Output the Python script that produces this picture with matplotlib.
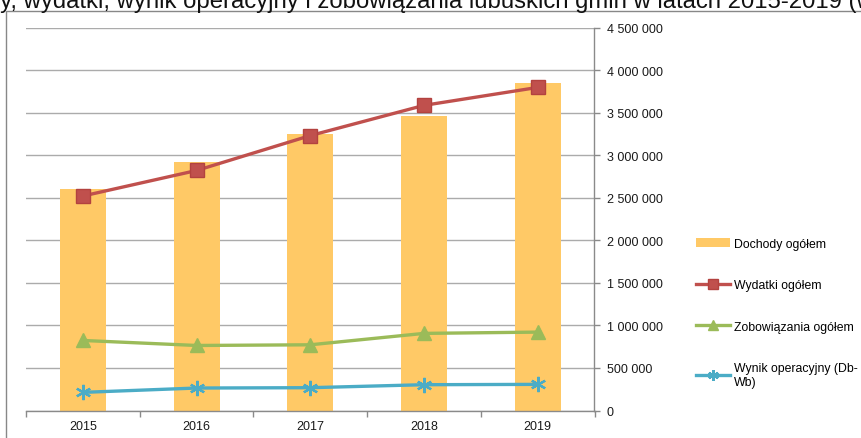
import matplotlib
matplotlib.use("Agg")
import matplotlib.pyplot as plt
from matplotlib.patches import Rectangle
from matplotlib.ticker import FuncFormatter, MultipleLocator, FixedLocator

plt.rcParams['font.family'] = ['Liberation Sans', 'DejaVu Sans']

# dane (tys. zl)
LATA = ["2015", "2016", "2017", "2018", "2019"]
DOCHODY = [2600000, 2920000, 3243000, 3459000, 3847000]
WYDATKI = [2520000, 2820000, 3230000, 3585000, 3796000]
ZOBOWIAZANIA = [823000, 764000, 772000, 906000, 921000]
WYNIK = [213000, 264000, 268000, 303000, 307000]

TYTUL = "Dochody, wydatki, wynik operacyjny i zobowiązania lubuskich gmin w latach 2015-2019 (w tys. zł)"

fig = plt.figure(figsize=(8.62, 4.39), dpi=100)
ax = fig.add_axes([26 / 862, 1 - 411.5 / 439, (594.5 - 26) / 862, (411.5 - 28.5) / 439])

x = range(len(LATA))
b = ax.bar(x, DOCHODY, width=0.405, color="#FFC966", label="Dochody ogółem", zorder=2)
l1, = ax.plot(x, WYDATKI, color="#C0504D", lw=2.4, marker="s", ms=9.5, mec="#B3423F",
              label="Wydatki ogółem", zorder=3)
l2, = ax.plot(x, ZOBOWIAZANIA, color="#9BBB59", lw=2.4, marker="^", ms=10,
              label="Zobowiązania ogółem", zorder=3)
l3, = ax.plot(x, WYNIK, color="#4BACC6", lw=2.4, marker=(6, 2, 0), ms=11, mew=1.6,
              label="Wynik operacyjny (Db-\nWb)", zorder=3)

ax.set_xlim(-0.5, len(LATA) - 0.5)
ax.set_ylim(0, 4500000)
ax.yaxis.set_major_locator(MultipleLocator(500000))
ax.yaxis.set_major_formatter(FuncFormatter(lambda v, p: f"{int(v):,}".replace(",", " ")))
ax.yaxis.tick_right()
ax.grid(axis="y", color="#ABABAB", lw=1, zorder=0)

ax.set_xticks(list(x))
ax.set_xticklabels(LATA)
ax.xaxis.set_minor_locator(FixedLocator([i - 0.5 for i in range(len(LATA) + 1)]))
ax.tick_params(axis="x", which="major", length=0, pad=7, labelsize=9, labelcolor="#1a1a1a")
ax.tick_params(axis="x", which="minor", length=4, width=1, color="#8A8A8A", direction="out")
ax.tick_params(axis="y", length=4, width=1, color="#8A8A8A", pad=5, labelsize=9,
               labelcolor="#1a1a1a")

for s in ["left", "top"]:
    ax.spines[s].set_visible(False)
for s in ["right", "bottom"]:
    ax.spines[s].set_color("#8A8A8A")
    ax.spines[s].set_linewidth(1)

fig.legend([b, l1, l2, l3], [h.get_label() for h in (b, l1, l2, l3)],
           loc="upper left", bbox_to_anchor=(685 / 862, 1 - 228 / 439), frameon=False,
           fontsize=8.8, labelspacing=2.4, handlelength=2.8, handletextpad=0.3,
           markerscale=0.7)

# ramka obszaru wykresu
top = 1 - 11.5 / 439
fig.patches.append(Rectangle((6 / 862, -0.2), 1.2, 0.2 + top, transform=fig.transFigure,
                             fill=False, ec="#888888", lw=1))

# tytul przyciety u gory
r = fig.canvas.get_renderer()
tmp = fig.text(0, 0, "Dochod", fontsize=17.2)
w = tmp.get_window_extent(r).width
tmp.remove()
fig.text(-w / 862, 1 - 8 / 439, TYTUL, fontsize=17.2, va="baseline", color="#111111")

fig.savefig("out.png", dpi=100)
